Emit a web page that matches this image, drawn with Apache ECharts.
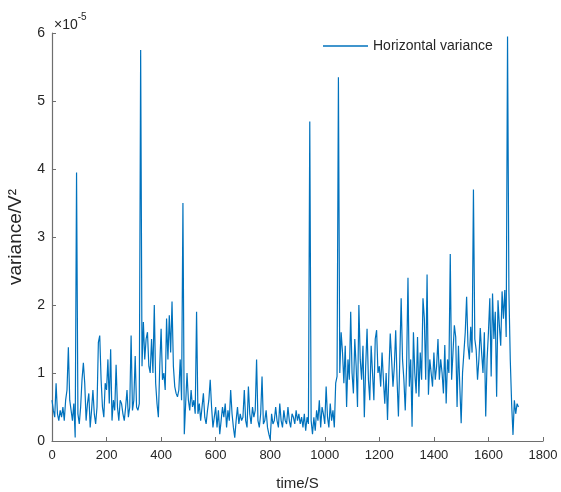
<!DOCTYPE html>
<html>
<head>
<meta charset="utf-8">
<script src="https://cdn.jsdelivr.net/npm/echarts@6/dist/echarts.min.js"></script>
<style>html,body{margin:0;padding:0;background:#fff}#c{width:561px;height:492px}</style>
</head>
<body>
<div id="c"></div>
<script>
// sampling step of the time axis (seconds)
const timeStep = 5;
// variance values (×1e-5 V²), one per 5-second sample, from t = 0 s
const v0000 = [0.6,0.45,0.35,0.85,0.4,0.3,0.45,0.35,0.5,0.3,0.6,0.75,1.38,0.6,0.45,0.3,0.55,0.05,3.95,0.4];
const v0100 = [0.25,0.5,0.9,1.15,0.85,0.3,0.55,0.7,0.2,0.45,0.75,0.4,0.25,0.5,1.45,1.55,0.9,0.5,0.35,0.85];
const v0200 = [0.75,1.2,0.55,1.35,0.3,0.6,0.45,1.12,0.5,0.3,0.6,0.55,0.4,0.3,0.5,0.75,0.35,0.5,1.55,0.45];
const v0300 = [0.6,1.25,0.5,0.45,0.55,5.75,1.1,1.75,1.2,1.5,1.6,1.1,1.0,1.5,1.0,2.0,0.85,0.55,0.35,1.1];
const v0400 = [1.65,0.9,1.0,0.75,1.8,1.2,1.85,1.3,2.05,1.1,0.8,0.7,0.65,0.75,1.2,0.6,3.5,0.1,0.55,1.0];
const v0500 = [0.6,0.45,0.75,0.5,0.6,0.4,1.9,0.4,0.55,0.3,0.5,0.7,0.35,0.25,0.45,0.6,0.9,0.5,0.2,0.35];
const v0600 = [0.5,0.2,0.45,0.1,0.3,0.5,0.35,0.55,0.2,0.45,0.3,0.75,0.4,0.2,0.05,0.3,0.5,0.25,0.4,0.3];
const v0700 = [0.35,0.75,0.3,0.2,0.8,0.4,0.25,0.5,0.35,0.45,1.2,0.3,0.2,0.4,0.95,0.25,0.3,0.45,0.2,0.1];
const v0800 = [0.02,0.4,0.25,0.3,0.5,0.3,0.2,0.55,0.3,0.2,0.45,0.3,0.25,0.5,0.3,0.2,0.4,0.35,0.25,0.45];
const v0900 = [0.3,0.4,0.25,0.35,0.2,0.4,0.15,0.35,0.25,4.7,0.3,0.1,0.35,0.15,0.45,0.3,0.6,0.2,0.5,0.4];
const v1000 = [0.25,0.8,0.35,0.2,0.55,0.3,0.45,0.2,0.85,0.95,5.35,1.0,1.6,1.3,0.85,1.4,0.5,1.2,0.9,1.9];
const v1100 = [1.0,0.7,1.5,1.1,0.5,2.0,1.2,0.9,1.4,0.35,1.1,1.65,0.9,0.6,1.4,1.0,0.6,1.5,1.63,1.0];
const v1200 = [1.1,0.8,1.3,0.9,0.55,1.0,0.31,1.0,1.58,1.2,0.8,1.1,1.63,0.9,0.36,1.2,2.1,1.2,0.9,0.45];
const v1300 = [1.1,2.4,0.8,1.2,0.21,1.6,1.0,0.7,1.53,0.65,1.3,0.9,2.1,1.8,0.9,2.45,0.68,1.2,1.0,0.8];
const v1400 = [1.3,0.9,1.1,1.5,0.9,1.2,1.0,0.7,1.41,0.55,1.2,1.0,2.75,0.9,1.3,1.7,1.53,0.5,1.4,0.8];
const v1500 = [0.26,1.0,1.3,1.6,2.12,1.4,1.2,1.68,1.3,3.7,1.5,1.34,0.9,1.2,1.66,1.3,1.0,1.6,0.36,1.2];
const v1600 = [1.6,2.1,0.95,2.17,1.5,1.9,0.65,2.07,1.7,1.4,2.2,1.8,2.22,1.53,5.95,2.2,1.2,0.55,0.09,0.6];
const v1700 = [0.4,0.55,0.5];
// axis ticks
const xTicks = [0,200,400,600,800,1000,1200,1400,1600,1800];
const yTicks = [0,1,2,3,4,5,6];
const seriesName = 'Horizontal variance';

const values = [].concat(v0000,v0100,v0200,v0300,v0400,v0500,v0600,v0700,v0800,v0900,
                         v1000,v1100,v1200,v1300,v1400,v1500,v1600,v1700);
const data = values.map((v, i) => [i * timeStep, v]);

const FONT = '"Liberation Sans", Arial, sans-serif';
const TXT = '#262626';
const chart = echarts.init(document.getElementById('c'), null, {renderer: 'canvas'});
chart.setOption({
  animation: false,
  backgroundColor: '#fff',
  grid: {left: 52, right: 18, top: 33, bottom: 51, containLabel: false, outerBoundsMode: 'none'},
  legend: {
    show: true, top: 34, left: 318, icon: 'path://M0,0 L45,0 L45,1.3 L0,1.3 Z',
    itemWidth: 45, itemHeight: 1.3, itemGap: 4,
    textStyle: {fontFamily: FONT, fontSize: 14, color: TXT},
    data: [seriesName]
  },
  xAxis: {
    type: 'value', min: xTicks[0], max: xTicks[xTicks.length - 1], interval: 200,
    name: 'time/S', nameLocation: 'middle', nameGap: 35,
    nameTextStyle: {fontFamily: FONT, fontSize: 15, color: TXT},
    axisLine: {show: true, lineStyle: {color: '#6e6e6e', width: 1.2}},
    axisTick: {show: true, inside: true, length: 4, lineStyle: {color: '#6e6e6e'}},
    axisLabel: {fontFamily: FONT, fontSize: 13, color: TXT, margin: 8,
                formatter: v => String(v)},
    splitLine: {show: false}
  },
  yAxis: {
    type: 'value', min: yTicks[0], max: yTicks[yTicks.length - 1], interval: 1,
    name: 'variance/V\u00B2', nameLocation: 'middle', nameGap: 27,
    nameTextStyle: {fontFamily: FONT, fontSize: 19, color: TXT},
    axisLine: {show: true, lineStyle: {color: '#6e6e6e', width: 1.2}},
    axisTick: {show: true, inside: true, length: 4, lineStyle: {color: '#6e6e6e'}},
    axisLabel: {fontFamily: FONT, fontSize: 14, color: TXT, margin: 7},
    splitLine: {show: false}
  },
  graphic: [{
    type: 'text', left: 54, top: 12,
    style: {
      text: '{a|\u00D710}{b|-5}',
      rich: {
        a: {fontFamily: FONT, fontSize: 14, fill: TXT, verticalAlign: 'bottom', lineHeight: 20},
        b: {fontFamily: FONT, fontSize: 10, fill: TXT, verticalAlign: 'top', lineHeight: 20, padding: [0,0,9,0]}
      }
    }
  }],
  series: [{
    name: seriesName, type: 'line', data: data, showSymbol: false, symbol: 'none',
    lineStyle: {color: '#0072BD', width: 1.2}, itemStyle: {color: '#0072BD'}
  }]
});
</script>
</body>
</html>
